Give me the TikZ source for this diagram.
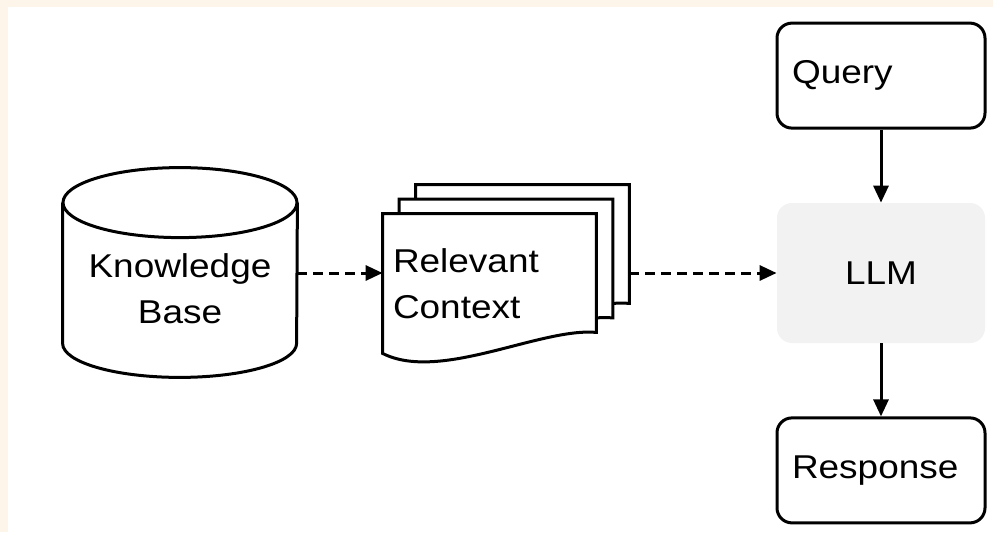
\documentclass[tikz,border=0pt]{standalone}
\usepackage{fontspec}
\setmainfont{Liberation Sans}[FakeStretch=1.12]
\usetikzlibrary{positioning,arrows.meta,calc,backgrounds}
\definecolor{paper}{HTML}{FEF5EA}
\definecolor{llmgray}{HTML}{F2F2F2}

\begin{document}
\begin{tikzpicture}[x=0.5pt, y=0.5pt,
    font=\fontsize{16.5}{23}\selectfont,
    node distance=36.5pt,
    thickline/.style={line width=1.5pt},
    arr/.style={thickline, -{Triangle[length=8.5pt,width=7.5pt]}},
    dasharr/.style={arr, dash pattern=on 5pt off 3pt},
    box/.style={draw, thickline, rounded corners=7.5pt, minimum width=104pt,
                minimum height=52.5pt, text width=89pt, inner xsep=7.5pt, align=left},
    docpage/.style={minimum width=106.5pt, minimum height=59pt, inner sep=0pt}]
\useasboundingbox (0,0) rectangle (993,532);

% retrieval side
\node[minimum width=117pt, minimum height=70pt, inner sep=0pt] (kb) at (180,259)
    {\raisebox{-9pt}[\height][\depth]{\begin{tabular}{@{}c@{}}Knowledge\\Base\end{tabular}}};
\node[docpage, text width=96.5pt, inner xsep=5pt, align=left] (ctx) at (489.5,259)
    {\raisebox{-6.5pt}[\height][\depth]{\begin{tabular}{@{}l@{}}Relevant\\Context\end{tabular}}};
\node[docpage] (page2) at ($(ctx)+(16.5,14.5)$) {};
\node[docpage] (page3) at ($(ctx)+(33,29)$) {};

% model column
\node[fill=llmgray, rounded corners=7.5pt, minimum width=104pt, minimum height=70pt] (llm) at (881,259) {LLM};
\node[box, above=of llm] (query) {Query};
\node[box, below=of llm] (response) {Response};

\draw[arr] (query) -- (llm);
\draw[arr] (llm) -- (response);
\draw[dasharr] (kb) -- (ctx);
\draw[dasharr] (page3.east |- llm) -- (llm);

\begin{pgfonlayer}{background}
\fill[paper] (0,0) rectangle (993,532);
\fill[white] (8,0) rectangle (993,525);
% cylinder
\draw[thickline, fill=white] (kb.north west) -- (kb.south west)
    arc[start angle=180, end angle=360, x radius=58.5pt, y radius=17pt] -- (kb.north east);
\draw[thickline, fill=white] (kb.north) ellipse[x radius=58.5pt, y radius=17.5pt];
% stacked pages, back to front
\foreach \p in {page3,page2,ctx}
    \draw[thickline, fill=white] (\p.south east) -- (\p.north east) -- (\p.north west)
        -- ($(\p.south west)+(0,-21)$) .. controls ($(\p.south west)+(57,-50)$)
        and ($(\p.south east)+(-56,5)$) .. (\p.south east) -- cycle;
\end{pgfonlayer}
\end{tikzpicture}
\end{document}
